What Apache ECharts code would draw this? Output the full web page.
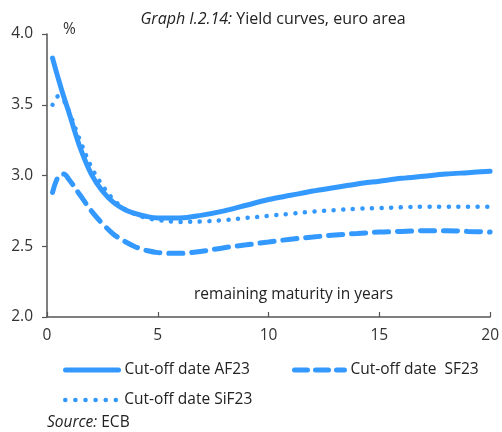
<!DOCTYPE html>
<html><head><meta charset="utf-8">
<script src="https://cdn.jsdelivr.net/npm/echarts@6/dist/echarts.min.js"></script>
<style>html,body{margin:0;padding:0;background:#fff}#c{width:502px;height:432px}</style>
</head><body><div id="c"></div>
<script>
const maturities = [0.25,0.5,0.75,1,1.5,2,2.5,3,3.5,4,4.5,5,6,7,8,9,10,11,12,13,14,15,16,17,18,19,20];
const af23 = [3.83,3.69,3.56,3.44,3.195,3.01,2.89,2.81,2.76,2.73,2.71,2.70,2.70,2.72,2.75,2.79,2.83,2.86,2.89,2.915,2.94,2.96,2.98,2.995,3.01,3.02,3.03];
const sf23 = [2.88,2.99,3.01,2.97,2.86,2.75,2.66,2.585,2.535,2.495,2.47,2.455,2.45,2.465,2.49,2.51,2.53,2.55,2.565,2.58,2.59,2.60,2.605,2.61,2.61,2.605,2.60];
const sif23 = [3.50,3.56,3.53,3.45,3.245,3.06,2.93,2.83,2.765,2.725,2.70,2.685,2.672,2.675,2.685,2.70,2.715,2.73,2.745,2.755,2.765,2.77,2.775,2.78,2.78,2.78,2.78];
const seriesNames = ['Cut-off date AF23','Cut-off date  SF23','Cut-off date SiF23'];
const yTicks = [2.0,2.5,3.0,3.5,4.0];
const xTicks = [0,5,10,15,20];

const FONT = 'Open Sans';
const FS = 15.5;
const BLUE = '#3399FF';
const AX = '#555555';
const pair = (arr) => maturities.map((m,i)=>[m,arr[i]]);
const legendText = {fontSize:FS,color:'#222',fontFamily:FONT,padding:[0,0,0,1]};

const chart = echarts.init(document.getElementById('c'));
chart.setOption({
  animation:false,
  textStyle:{fontFamily:FONT},
  title:{text:'{i|Graph I.2.14:} Yield curves, euro area',left:273,top:11,textAlign:'center',padding:0,
    textStyle:{fontSize:16,fontWeight:'normal',color:'#222',fontFamily:FONT,rich:{i:{fontStyle:'italic',fontSize:16,color:'#222',fontFamily:FONT}}}},
  grid:{left:47,right:9,top:34,bottom:115,containLabel:false},
  xAxis:{type:'value',min:0,max:20,interval:5,
    axisLine:{lineStyle:{color:AX,width:1.5}},
    axisTick:{inside:true,length:5,lineStyle:{color:AX,width:1.2}},
    axisLabel:{fontSize:FS,color:'#333',margin:11,fontFamily:FONT,showMaxLabel:true},
    splitLine:{show:false}},
  yAxis:{type:'value',min:2,max:4,interval:0.5,
    axisLine:{show:true,lineStyle:{color:AX,width:1.5}},
    axisTick:{show:true,inside:false,length:5,lineStyle:{color:AX,width:1.2}},
    axisLabel:{fontSize:FS,color:'#333',margin:14,fontFamily:FONT,formatter:v=>v.toFixed(1)},
    splitLine:{show:false}},
  legend:[
    {data:[seriesNames[0]],left:63,top:362,padding:0,itemWidth:53,itemHeight:10,itemStyle:{opacity:0},
      lineStyle:{width:5,cap:'round'},textStyle:legendText},
    {data:[seriesNames[1]],left:292,top:362,padding:0,itemWidth:50,itemHeight:10,itemStyle:{opacity:0},
      lineStyle:{width:5,cap:'round',type:[13,8]},textStyle:legendText},
    {data:[seriesNames[2]],left:63,top:392,padding:0,itemWidth:53,itemHeight:10,itemStyle:{opacity:0},
      lineStyle:{width:4.5,cap:'round',type:[0.1,10]},textStyle:legendText}
  ],
  graphic:[
    {type:'text',left:63,top:22,style:{text:'%',fontSize:FS,fill:'#333',fontFamily:FONT}},
    {type:'text',left:194,top:287,style:{text:'remaining maturity in years',fontSize:FS,fill:'#222',fontFamily:FONT}},
    {type:'text',left:47,top:415,style:{text:'{i|Source:} ECB',fontSize:FS,fill:'#222',fontFamily:FONT,rich:{i:{fontStyle:'italic',fontSize:FS,fill:'#222',fontFamily:FONT}}}}
  ],
  series:[
    {name:seriesNames[0],type:'line',data:pair(af23),smooth:0.35,showSymbol:false,symbol:'circle',
      lineStyle:{color:BLUE,width:5,cap:'round'},itemStyle:{color:BLUE}},
    {name:seriesNames[1],type:'line',data:pair(sf23),smooth:0.35,showSymbol:false,symbol:'circle',
      lineStyle:{color:BLUE,width:5,type:[14,9],cap:'round'},itemStyle:{color:BLUE}},
    {name:seriesNames[2],type:'line',data:pair(sif23),smooth:0.35,showSymbol:false,symbol:'circle',
      lineStyle:{color:BLUE,width:4.5,type:[0.1,9.5],cap:'round'},itemStyle:{color:BLUE}}
  ]
});
</script></body></html>
